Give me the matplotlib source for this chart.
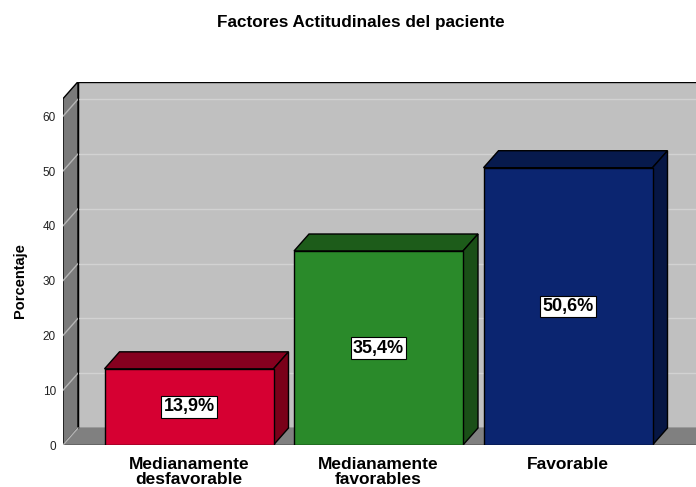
import matplotlib
matplotlib.use("Agg")
import matplotlib.pyplot as plt
from matplotlib.patches import Polygon

categories = ["Medianamente\ndesfavorable", "Medianamente\nfavorables", "Favorable"]
values = [13.9, 35.4, 50.6]
labels = ["13,9%", "35,4%", "50,6%"]
yticks = [0, 10, 20, 30, 40, 50, 60]

front = ["#d60032", "#2a8a2a", "#0b2570"]
top = ["#85001f", "#1d5c1a", "#071a4d"]
side = ["#7a0019", "#1a4f17", "#061644"]

plt.rcParams['font.family'] = ['Liberation Sans', 'DejaVu Sans']

W, H = 696, 487
fig = plt.figure(figsize=(W / 100, H / 100), dpi=100)

# axes box in pixels: front axis at x=63, y=0 at px 445, back top at px 82
left_px, right_px, bot_px, top_px = 63, 696, 445, 82
ax = fig.add_axes([left_px / W, (H - bot_px) / H,
                   (right_px - left_px) / W, (bot_px - top_px) / H])

px_per_cat = 189.5
px_per_unit = 5.48
x0 = -126 / px_per_cat
x1 = x0 + (right_px - left_px) / px_per_cat
ymax = (bot_px - top_px) / px_per_unit
ax.set_xlim(x0, x1)
ax.set_ylim(0, ymax)

dx = 15 / px_per_cat      # depth offset
dy = 17 / px_per_unit
wall_top = 63.2
bw = 169 / px_per_cat

# back wall
ax.add_patch(Polygon([(x0 + dx, dy), (x1 + 1, dy), (x1 + 1, wall_top + dy),
                      (x0 + dx, wall_top + dy)], closed=True,
                     facecolor="#c0c0c0", edgecolor="black", lw=1, zorder=1))
for t in yticks[1:]:
    ax.plot([x0 + dx, x1 + 1], [t + dy, t + dy], color="#d2d2d2", lw=1, zorder=1.5)
# left side wall
ax.add_patch(Polygon([(x0, 0), (x0, wall_top), (x0 + dx, wall_top + dy), (x0 + dx, dy)],
                     closed=True, facecolor="#7a7a7a", edgecolor="black", lw=1, zorder=2))
for t in yticks[1:]:
    ax.plot([x0, x0 + dx], [t, t + dy], color="#b5b5b5", lw=1, zorder=2.5)
# floor
ax.add_patch(Polygon([(x0, 0), (x1 + 1, 0), (x1 + 1 + dx, dy), (x0 + dx, dy)],
                     closed=True, facecolor="#808080", edgecolor="none", zorder=2))
ax.plot([x0, x1], [0, 0], color="black", lw=1, zorder=2.6)
ax.plot([x0 + dx, x0 + dx], [dy, wall_top + dy], color="black", lw=0.8, zorder=2.6)
ax.plot([x0, x0 + dx], [0, dy], color="#b5b5b5", lw=1, zorder=2.6)

# bars
for i, v in enumerate(values):
    l, r = i - bw / 2, i + bw / 2
    ax.add_patch(Polygon([(l, 0), (r, 0), (r, v), (l, v)], closed=True,
                         facecolor=front[i], edgecolor="black", lw=1, zorder=4))
    ax.add_patch(Polygon([(l, v), (r, v), (r + dx, v + dy), (l + dx, v + dy)], closed=True,
                         facecolor=top[i], edgecolor="black", lw=1, zorder=3))
    ax.add_patch(Polygon([(r, 0), (r + dx, dy), (r + dx, v + dy), (r, v)], closed=True,
                         facecolor=side[i], edgecolor="black", lw=1, zorder=3))
    ax.text(i, v / 2, labels[i], ha="center", va="center", fontsize=13, fontweight="bold",
            zorder=5, bbox=dict(boxstyle="square,pad=0.12", facecolor="white",
                                edgecolor="black", lw=0.8))

for s in ax.spines.values():
    s.set_visible(False)
ax.set_yticks(yticks)
ax.set_yticklabels([str(t) for t in yticks], fontsize=8.5, color="#222222")
ax.set_xticks(range(len(categories)))
ax.set_xticklabels(categories, fontsize=12.5, fontweight="bold", linespacing=1.05)
ax.tick_params(axis="y", length=0, pad=5)
ax.tick_params(axis="x", length=0, pad=8.5)
ax.set_ylabel("Porcentaje", fontsize=10.5, fontweight="bold")
ax.yaxis.set_label_coords((27 - left_px) / (right_px - left_px), (bot_px - 281) / (bot_px - top_px))

fig.text(361 / W, 1 - 22 / H, "Factores Actitudinales del paciente", ha="center", va="center",
         fontsize=12.3, fontweight="bold")

fig.savefig("out.png", dpi=100)
